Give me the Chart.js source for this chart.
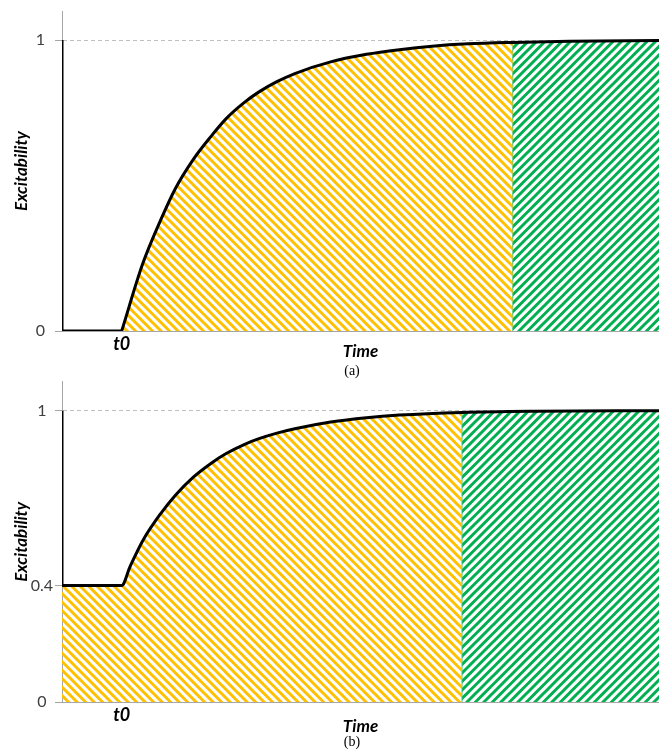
<!DOCTYPE html>
<html>
<head>
<meta charset="utf-8">
<script src="https://cdn.jsdelivr.net/npm/chart.js@4.4.1/dist/chart.umd.min.js"></script>
<style>
body{margin:0;background:#fff;width:659px;height:753px;position:relative;overflow:hidden}
canvas{position:absolute;left:0}
#chartA{top:0}
#chartB{top:370px}
.cap{position:absolute;width:40px;text-align:center;font-family:"Liberation Serif";font-size:14px;color:#000}
</style>
</head>
<body>
<canvas id="chartA" width="659" height="380"></canvas>
<canvas id="chartB" width="659" height="383"></canvas>
<div class="cap" style="left:332px;top:363px">(a)</div>
<div class="cap" style="left:332px;top:734px">(b)</div>
<script>
// panel (a): rests at 0 until t0 (= 1 on the time axis), then rises toward 1
const restTimeA = [0, 0, 1]
const restExcA = [1, 0, 0]
const timeA = [1, 1.35, 1.65, 1.9, 2.2, 2.5, 2.75, 3.05, 3.3, 3.6, 3.9, 4.5, 5.1, 5.65, 6.2, 6.8, 7.55, 8.5, 10]
const excA = [0, 0.23, 0.38, 0.49, 0.59, 0.67, 0.73, 0.785, 0.822, 0.857, 0.885, 0.925, 0.951, 0.967, 0.979, 0.987, 0.992, 0.996, 0.999]
const splitA = 7.55
const yTicksA = [0, 1]

// panel (b): rests at 0.4 until t0
const restTimeB = [0, 0]
const restExcB = [1, 0.4]
const timeB = [0, 1, 1.14, 1.35, 1.65, 1.9, 2.2, 2.5, 2.75, 3.05, 3.3, 3.6, 3.9, 4.5, 5.1, 5.65, 6.7, 7.9, 10]
const excB = [0.4, 0.4, 0.465, 0.553, 0.646, 0.71, 0.772, 0.82, 0.853, 0.884, 0.904, 0.923, 0.938, 0.961, 0.976, 0.985, 0.994, 0.998, 1.0]
const splitB = 6.7
const yTicksB = [0, 0.4, 1]

const font = 'Lato'

// striped fill, tile holds two stripes so the period is 8.5px
function hatch(color, dir) {
    const s = 17
    const c = document.createElement('canvas')
    c.width = c.height = s
    const g = c.getContext('2d')
    g.strokeStyle = color
    g.lineWidth = 3
    g.beginPath()
    for (let k = -2; k <= 2; k++) {
        const o = k * s / 2
        if (dir == 'down') { g.moveTo(o - 2, -2); g.lineTo(o + s + 2, s + 2) }
        else { g.moveTo(o - 2, s + 2); g.lineTo(o + s + 2, -2) }
    }
    g.stroke()
    return g.createPattern(c, 'repeat')
}

const pts = (xs, ys) => xs.map((x, i) => ({x: x, y: ys[i]}))

function panel(id, restT, restE, t, e, split, yTicks, h, padTop, titlePad, labelPad) {
    const curve = pts(t, e)
    const yellow = curve.filter(p => p.x <= split)
    const green = [{x: split, y: 0}].concat(curve.filter(p => p.x >= split))
    const line = {borderColor: '#000', borderWidth: 3, pointRadius: 0, fill: false, order: 0}
    const bi = size => ({family: font, size: size, weight: 'bold', style: 'italic'})
    return new Chart(document.getElementById(id), {
        type: 'line',
        data: {
            datasets: [
                Object.assign({data: pts(restT, restE), tension: 0}, line),
                Object.assign({data: curve, cubicInterpolationMode: 'monotone'}, line),
                {data: yellow, cubicInterpolationMode: 'monotone', borderWidth: 0, pointRadius: 0,
                    backgroundColor: hatch('#FFC000', 'down'), fill: 'origin', order: 1},
                {data: green, cubicInterpolationMode: 'monotone', borderWidth: 1, borderColor: '#3CC27A', pointRadius: 0,
                    backgroundColor: hatch('#00B050', 'up'), fill: 'origin', order: 1},
            ]
        },
        options: {
            responsive: false,
            animation: false,
            events: [],
            layout: {padding: {top: padTop, left: 0, right: 0, bottom: 0}},
            plugins: {legend: {display: false}, tooltip: {enabled: false}},
            scales: {
                x: {
                    type: 'linear', min: 0, max: 10,
                    afterBuildTicks: s => { s.ticks = [{value: 1}] },
                    afterFit: s => { s.height = h - Math.round(331 + padTop - 11) },
                    ticks: {callback: () => 't0', color: '#000', padding: 2, maxRotation: 0, autoSkip: false, font: bi(18)},
                    grid: {display: false, drawTicks: false},
                    border: {color: '#A6A6A6', width: 1},
                    title: {display: true, text: 'Time', color: '#000', padding: {top: 0, bottom: titlePad}, font: bi(17)}
                },
                y: {
                    min: 0, max: 1.1,
                    afterBuildTicks: s => { s.ticks = yTicks.map(v => ({value: v})) },
                    afterFit: s => { s.width = 62; s.paddingTop = 0; s.paddingBottom = 0 },
                    ticks: {callback: v => String(v), color: '#404040', padding: labelPad, crossAlign: 'center',
                        font: {family: font, size: 16}},
                    grid: {color: c => c.tick && c.tick.value == 1 ? '#BFBFBF' : 'rgba(0,0,0,0)',
                        tickColor: '#A6A6A6', tickLength: 7, lineWidth: 1},
                    border: {color: '#A6A6A6', width: 1, dash: [4, 3]},
                    title: {display: true, text: 'Excitability', color: '#000', padding: {top: 11}, font: bi(17)}
                }
            }
        }
    })
}

panel('chartA', restTimeA, restExcA, timeA, excA, splitA, yTicksA, 380, 11, 18, 10)
panel('chartB', restTimeB, restExcB, timeB, excB, splitB, yTicksB, 383, 11.6, 16, 2)
</script>
</body>
</html>
